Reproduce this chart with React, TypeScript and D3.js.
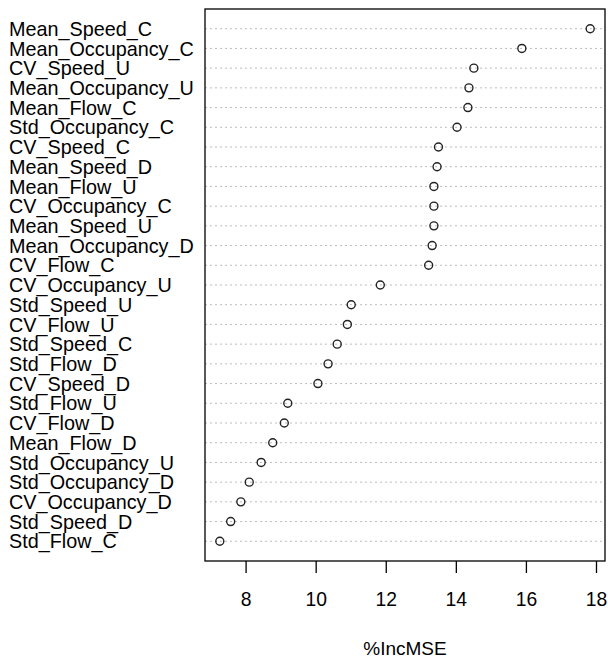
import * as d3 from 'd3'

// variable importance, top to bottom as drawn
const variables = [
  'Mean_Speed_C', 'Mean_Occupancy_C', 'CV_Speed_U', 'Mean_Occupancy_U', 'Mean_Flow_C',
  'Std_Occupancy_C', 'CV_Speed_C', 'Mean_Speed_D', 'Mean_Flow_U', 'CV_Occupancy_C',
  'Mean_Speed_U', 'Mean_Occupancy_D', 'CV_Flow_C', 'CV_Occupancy_U', 'Std_Speed_U',
  'CV_Flow_U', 'Std_Speed_C', 'Std_Flow_D', 'CV_Speed_D', 'Std_Flow_U',
  'CV_Flow_D', 'Mean_Flow_D', 'Std_Occupancy_U', 'Std_Occupancy_D', 'CV_Occupancy_D',
  'Std_Speed_D', 'Std_Flow_C',
]
const incMSE = [
  17.82, 15.87, 14.5, 14.36, 14.33,
  14.02, 13.49, 13.45, 13.36, 13.36,
  13.36, 13.31, 13.21, 11.83, 11.0,
  10.89, 10.6, 10.34, 10.05, 9.19,
  9.09, 8.76, 8.43, 8.09, 7.85,
  7.56, 7.25,
]
const xTicks = [8, 10, 12, 14, 16, 18]
const xLabel = '%IncMSE'

const W = 608
const H = 658
const box = { left: 205, right: 605, top: 9, bottom: 561 }
const font = '"Liberation Sans", Arial, sans-serif'

export default function App() {
  const lo = d3.min(incMSE) ?? 0
  const hi = d3.max(incMSE) ?? 1
  const pad = (hi - lo) * 0.04
  const x = d3.scaleLinear().domain([lo - pad, hi + pad]).range([box.left, box.right])
  // rows 1..n inside 0..n+1, first variable at the top
  const n = variables.length
  const y = d3.scaleLinear().domain([0, n + 1]).range([box.bottom, box.top])
  const rowY = (i: number) => y(n - i)

  return (
    <svg width={W} height={H} style={{ position: 'absolute', left: 0, top: 0, background: '#fff' }}
      fontFamily={font}>
      {variables.map((v, i) => (
        <g key={v}>
          <line x1={box.left} x2={box.right} y1={rowY(i)} y2={rowY(i)}
            stroke="#bdbdbd" strokeWidth={1} strokeDasharray="2,3" />
          <text x={9} y={rowY(i)} dy="0.36em" fontSize={19.8} fill="#000">{v}</text>
          <circle cx={x(incMSE[i])} cy={rowY(i)} r={4} fill="none" stroke="#222" strokeWidth={1.4} />
        </g>
      ))}
      <rect x={box.left} y={box.top} width={box.right - box.left} height={box.bottom - box.top}
        fill="none" stroke="#000" strokeWidth={1.3} />
      {xTicks.map((t) => (
        <g key={t}>
          <line x1={x(t)} x2={x(t)} y1={box.bottom} y2={box.bottom + 12} stroke="#000" strokeWidth={1.3} />
          <text x={x(t)} y={606} textAnchor="middle" fontSize={19.3} fill="#000">{t}</text>
        </g>
      ))}
      <text x={(box.left + box.right) / 2} y={655} textAnchor="middle" fontSize={19} fill="#000">{xLabel}</text>
    </svg>
  )
}
